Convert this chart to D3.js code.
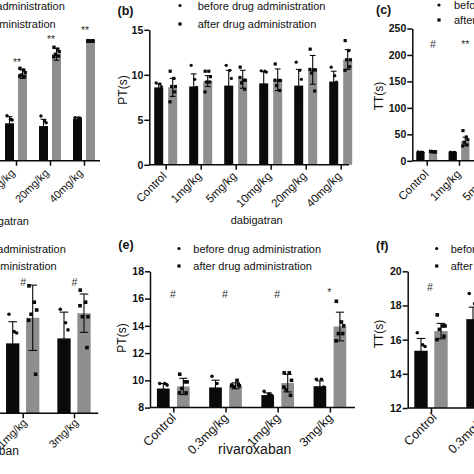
<!DOCTYPE html>
<html><head><meta charset="utf-8">
<script src="https://cdn.jsdelivr.net/npm/d3@7"></script>
<style>html,body{margin:0;padding:0;background:#fff;overflow:hidden}</style>
</head><body><svg id="c" width="474" height="474"></svg>
<script>
// ---------- data ----------
const legendLabels = ["before drug administration", "after drug administration"];
const dabigatranTicks = ["Control", "1mg/kg", "5mg/kg", "10mg/kg", "20mg/kg", "40mg/kg"];
const rivaroxabanTicks = ["Control", "0.3mg/kg", "1mg/kg", "3mg/kg"];

// (a) dabigatran, visible groups only
const aCats = ["10mg/kg", "20mg/kg", "40mg/kg"];
const aBefore = [28.3, 26.2, 31.5];
const aBeforeSD = [5.0, 5.1, 1.3];
const aAfter = [65.4, 80.5, 90.5];
const aAfterSD = [3.2, 4.5, 0.4];
const aBeforePts = [[34, 31.3, 30.8], [33.8, 30, 28.7], [32.5, 32.3, 32.1]];
const aAfterPts = [[69.9, 68.6, 66.6, 64.8, 63.5, 64], [85.8, 84.3, 82.5, 80.5, 79.2, 78.7], [90.8, 90.5, 90.6, 90.4, 90.7, 90.3]];
const aSig = ["**", "**", "**"];
const aSigAt = [75, 92, 99];

// (b) PT dabigatran
const bCats = dabigatranTicks;
const bBefore = [8.6, 8.7, 8.8, 9.05, 8.8, 9.25];
const bBeforeSD = [0.4, 1.4, 1.7, 1.3, 1.8, 1.15];
const bAfter = [8.6, 9.3, 9.5, 9.45, 10.55, 11.7];
const bAfterSD = [1.0, 0.6, 1.0, 1.2, 1.6, 1.1];
const bBeforePts = [[9.1, 9.0, 8.7], [11.05, 9.5, 8.6], [11.05, 10.5, 9.6], [10.45, 10.4, 10.3], [11.4, 10.5, 9.5], [10.85, 9.9, 9.2]];
const bAfterPts = [[10.4, 9.6, 8.7, 8.7, 8.1, 7.0], [10.4, 10.4, 9.8, 9.2, 9.2, 8.1], [10.85, 9.4, 9.4, 9.1, 8.4, 9.7], [11.2, 9.37, 9.37, 8.8, 8.26, 9.4], [12.85, 10.55, 10.55, 10.2, 8.2, 10.6], [13.8, 12.7, 11.67, 11.67, 10.9, 10.5]];

// (c) TT dabigatran, visible groups only
const cCats = ["Control", "1mg/kg"];
const cBefore = [16.5, 16.0];
const cBeforeSD = [0.8, 0.8];
const cAfter = [17.0, 37.0];
const cAfterSD = [1.0, 7.5];
const cBeforePts = [[17, 16.5, 16], [16.5, 16, 15.5]];
const cAfterPts = [[17.8, 17.4, 17.1, 16.8, 16.5, 17.6], [57, 45, 40, 35, 30, 28]];
const cSig = ["#", "**"];
const cSigAt = [220, 220];

// (d) rivaroxaban, visible groups only
const dCats = ["1mg/kg", "3mg/kg"];
const dBefore = [19.7, 21.1];
const dBeforeSD = [6.1, 7.4];
const dAfter = [26.9, 28.2];
const dAfterSD = [9.2, 5.4];
const dBeforePts = [[27.9, 23.0, 22.6], [29.3, 25.5, 23.5]];
const dAfterPts = [[35.9, 31.3, 29.1, 27.9, 11.0, 26.2], [34.7, 31.3, 27.2, 27.2, 18.5, 30.3]];
const dSig = ["#", "#"];
const dSigAt = [36.9, 36.9];

// (e) PT rivaroxaban
const eCats = rivaroxabanTicks;
const eBefore = [9.40, 9.48, 8.92, 9.57];
const eBeforeSD = [0.37, 0.53, 0.16, 0.39];
const eAfter = [9.55, 9.6, 9.8, 13.95];
const eAfterSD = [0.6, 0.22, 0.65, 1.05];
const eBeforePts = [[9.77, 9.77, 9.65], [10.3, 9.77, 9.3], [9.2, 8.99, 8.9], [10.08, 10.08, 9.5]];
const eAfterPts = [[10.45, 9.89, 9.89, 9.4, 9.08, 9.08], [9.6, 10.0, 9.6, 9.52, 9.7, 9.65], [10.55, 10.55, 10.0, 9.3, 8.9, 9.5], [15.8, 14.28, 14.0, 13.43, 13.43, 12.9]];
const eSig = ["#", "#", "#", "*"];
const eSigAt = [16.3, 16.3, 16.3, 16.45];

// (f) TT rivaroxaban, visible groups only
const fCatsBefore = ["Control", "0.3mg/kg"];
const fBefore = [15.35, 17.2];
const fBeforeSD = [0.72, 0.7];
const fBeforePts = [[16.4, 15.7, 15.6], [18.7, 18.1, 17.85]];
const fCatsAfter = ["Control"];
const fAfter = [16.5];
const fAfterSD = [0.45];
const fAfterPts = [[17.45, 16.8, 16.8, 16.6, 16.2, 16.0]];
const fSig = ["#"];
const fSigAt = [19.1];

// ---------- drawing ----------
const FONT = "'Liberation Sans', Arial, Helvetica, sans-serif";
const svg = d3.select("#c").attr("font-family", FONT);
svg.append("rect").attr("width", 474).attr("height", 474).attr("fill", "#fff");

const BLACK = "#0a0a0a", GREY = "#8e8e8e";

function jitter(i, w) {
  const pat = [-0.28, 0.12, 0.3, -0.12, 0.22, -0.3];
  return pat[i % pat.length] * w;
}

function panel(cfg) {
  const g = svg.append("g");
  const x = d3.scalePoint().domain(cfg.ticks).range([cfg.x0, cfg.x0 + cfg.step * (cfg.ticks.length - 1)]);
  const y = d3.scaleLinear().domain(cfg.yDomain).range([cfg.yBottom, cfg.yTop]);

  cfg.series.forEach(s => {
    const off = s.side * cfg.off;
    s.cats.forEach((c, i) => {
      const cx = x(c) + off;
      const v = s.values[i];
      g.append("rect").attr("x", cx - cfg.bw / 2).attr("y", y(v))
        .attr("width", cfg.bw).attr("height", y(cfg.yDomain[0]) - y(v)).attr("fill", s.color);
    });
    s.cats.forEach((c, i) => {
      const cx = x(c) + off;
      const v = s.values[i], sd = s.sd[i];
      const cw = cfg.bw * 0.32;
      const y1 = y(v + sd), y0 = y(v - sd);
      g.append("line").attr("x1", cx).attr("x2", cx).attr("y1", y1).attr("y2", y0).attr("stroke", BLACK).attr("stroke-width", 1.1);
      g.append("line").attr("x1", cx - cw).attr("x2", cx + cw).attr("y1", y1).attr("y2", y1).attr("stroke", BLACK).attr("stroke-width", 1.1);
      g.append("line").attr("x1", cx - cw).attr("x2", cx + cw).attr("y1", y0).attr("y2", y0).attr("stroke", BLACK).attr("stroke-width", 1.1);
      const pts = s.pts[i];
      pts.forEach((p, j) => {
        const px = cx + jitter(j, cfg.bw);
        if (s.side < 0) {
          g.append("circle").attr("cx", px).attr("cy", y(p)).attr("r", cfg.dot * 0.5).attr("fill", BLACK);
        } else {
          g.append("rect").attr("x", px - cfg.dot / 2).attr("y", y(p) - cfg.dot / 2)
            .attr("width", cfg.dot).attr("height", cfg.dot).attr("fill", BLACK);
        }
      });
    });
  });

  if (cfg.sig) {
    cfg.sig.labels.forEach((t, i) => {
      g.append("text").attr("x", x(cfg.sig.cats[i]) + cfg.sig.dx).attr("y", y(cfg.sig.at[i]) + 4)
        .attr("text-anchor", "middle").attr("font-size", 10.5).attr("fill", "#333").text(t);
    });
  }

  // x axis
  g.append("line").attr("x1", cfg.axisX0).attr("x2", cfg.axisX1)
    .attr("y1", cfg.yBottom).attr("y2", cfg.yBottom).attr("stroke", BLACK).attr("stroke-width", 1.5);
  const xa = g.append("g").attr("transform", `translate(0,${cfg.yBottom})`)
    .call(d3.axisBottom(x).tickSize(5).tickSizeOuter(0));
  xa.select(".domain").remove();
  xa.selectAll(".tick line").attr("stroke", BLACK).attr("stroke-width", 1.5);
  xa.selectAll(".tick text").attr("font-size", cfg.lbl[2]).attr("font-family", FONT).attr("fill", "#111")
    .attr("text-anchor", "end").attr("dy", 0).attr("y", 0)
    .attr("transform", `translate(${cfg.lbl[0]},${cfg.lbl[1]}) rotate(-45)`);

  // y axis
  if (cfg.yTicks) {
    const ya = g.append("g").attr("transform", `translate(${cfg.axisX0},0)`)
      .call(d3.axisLeft(y).tickValues(cfg.yTicks).tickSize(5).tickSizeOuter(0));
    ya.select(".domain").attr("stroke", BLACK).attr("stroke-width", 1.5);
    ya.selectAll(".tick line").attr("stroke", BLACK).attr("stroke-width", 1.5);
    ya.selectAll(".tick text").attr("font-size", 10.5).attr("font-weight", "bold")
      .attr("font-family", FONT).attr("fill", "#111").attr("x", -6);
    g.append("text").attr("transform", `translate(${cfg.yTitleX},${cfg.yTitleY}) rotate(-90)`)
      .attr("text-anchor", "middle").attr("dy", "0.35em").attr("font-size", 12).attr("fill", "#111").text(cfg.yTitle);
  }

  if (cfg.xTitle) {
    g.append("text").attr("x", cfg.xTitleX).attr("y", cfg.xTitleY).attr("text-anchor", "middle")
      .attr("font-size", cfg.xTitleSize).attr("fill", "#111").text(cfg.xTitle);
  }

  legendLabels.forEach((t, i) => {
    const ly = cfg.legY[i];
    if (i === 0) g.append("circle").attr("cx", cfg.legMarkX).attr("cy", ly - 4).attr("r", 1.6).attr("fill", BLACK);
    else g.append("rect").attr("x", cfg.legMarkX - 1.6).attr("y", ly - 5.6).attr("width", 3.2).attr("height", 3.2).attr("fill", BLACK);
    g.append("text").attr("x", cfg.legTextX).attr("y", ly).attr("font-size", 11).attr("fill", "#111").text(t);
  });

  if (cfg.letter) {
    g.append("text").attr("x", cfg.letterX).attr("y", cfg.letterY).attr("font-size", 12.5)
      .attr("font-weight", "bold").attr("fill", "#111").text(cfg.letter);
  }
}

// (a)
panel({
  ticks: dabigatranTicks, x0: -86, step: 34, axisX0: -200, axisX1: 100,
  yDomain: [0, 100], yBottom: 160.7, yTop: 28.5, bw: 9, off: 6.5, dot: 3.4, lbl: [-1, 13, 11],
  series: [
    { side: -1, color: BLACK, cats: aCats, values: aBefore, sd: aBeforeSD, pts: aBeforePts },
    { side: 1, color: GREY, cats: aCats, values: aAfter, sd: aAfterSD, pts: aAfterPts }
  ],
  sig: { labels: aSig, cats: aCats, at: aSigAt, dx: 1 },
  xTitle: "dabigatran", xTitleX: 3, xTitleY: 225, xTitleSize: 11,
  legY: [9.5, 27.5], legMarkX: -80, legTextX: -63
});

// (b)
panel({
  ticks: bCats, x0: 165.7, step: 35, axisX0: 149.3, axisX1: 349,
  yDomain: [0, 15], yBottom: 164.8, yTop: 29.8, yTicks: [0, 5, 10, 15], bw: 9, off: 7, dot: 3.2, lbl: [1, 12, 11.5],
  series: [
    { side: -1, color: BLACK, cats: bCats, values: bBefore, sd: bBeforeSD, pts: bBeforePts },
    { side: 1, color: GREY, cats: bCats, values: bAfter, sd: bAfterSD, pts: bAfterPts }
  ],
  yTitle: "PT(s)", yTitleX: 123, yTitleY: 90,
  xTitle: "dabigatran", xTitleX: 256.7, xTitleY: 224, xTitleSize: 11,
  legY: [9.5, 28], legMarkX: 180, legTextX: 197.7,
  letter: "(b)", letterX: 117.5, letterY: 14.5
});

// (c)
panel({
  ticks: dabigatranTicks, x0: 426.7, step: 32.3, axisX0: 412.3, axisX1: 600,
  yDomain: [0, 250], yBottom: 160.8, yTop: 28.5, yTicks: [0, 50, 100, 150, 200, 250], bw: 8.3, off: 6.3, dot: 3.2, lbl: [2, 14, 11.5],
  series: [
    { side: -1, color: BLACK, cats: cCats, values: cBefore, sd: cBeforeSD, pts: cBeforePts },
    { side: 1, color: GREY, cats: cCats, values: cAfter, sd: cAfterSD, pts: cAfterPts }
  ],
  sig: { labels: cSig, cats: cCats, at: cSigAt, dx: 6.3 },
  yTitle: "TT(s)", yTitleX: 379, yTitleY: 96,
  legY: [9, 24], legMarkX: 439, legTextX: 454,
  letter: "(c)", letterX: 376, letterY: 14
});

// (d)
panel({
  ticks: rivaroxabanTicks, x0: -79.9, step: 51.3, axisX0: -200, axisX1: 98.3,
  yDomain: [0, 40], yBottom: 413.3, yTop: 271.3, bw: 13.3, off: 10, dot: 3.6, lbl: [4.5, 10, 11],
  series: [
    { side: -1, color: BLACK, cats: dCats, values: dBefore, sd: dBeforeSD, pts: dBeforePts },
    { side: 1, color: GREY, cats: dCats, values: dAfter, sd: dAfterSD, pts: dAfterPts }
  ],
  sig: { labels: dSig, cats: dCats, at: dSigAt, dx: 0.5 },
  xTitle: "rivaroxaban", xTitleX: -12.5, xTitleY: 455, xTitleSize: 12,
  legY: [252.5, 270], legMarkX: -79, legTextX: -62
});

// (e)
panel({
  ticks: eCats, x0: 173.3, step: 52.2, axisX0: 150, axisX1: 355,
  yDomain: [8, 18], yBottom: 407.6, yTop: 271.3, yTicks: [8, 10, 12, 14, 16, 18], bw: 12.7, off: 10, dot: 3.6, lbl: [3, 11, 12.5],
  series: [
    { side: -1, color: BLACK, cats: eCats, values: eBefore, sd: eBeforeSD, pts: eBeforePts },
    { side: 1, color: GREY, cats: eCats, values: eAfter, sd: eAfterSD, pts: eAfterPts }
  ],
  sig: { labels: eSig, cats: eCats, at: eSigAt, dx: -0.5 },
  yTitle: "PT(s)", yTitleX: 121.5, yTitleY: 338,
  xTitle: "rivaroxaban", xTitleX: 254.7, xTitleY: 454, xTitleSize: 14,
  legY: [252.5, 270], legMarkX: 179, legTextX: 193.3,
  letter: "(e)", letterX: 118.3, letterY: 249
});

// (f)
panel({
  ticks: rivaroxabanTicks, x0: 431, step: 52, axisX0: 407.7, axisX1: 600,
  yDomain: [12, 20], yBottom: 408, yTop: 271.3, yTicks: [12, 14, 16, 18, 20], bw: 13.4, off: 10, dot: 3.6, lbl: [6, 10, 12.5],
  series: [
    { side: -1, color: BLACK, cats: fCatsBefore, values: fBefore, sd: fBeforeSD, pts: fBeforePts },
    { side: 1, color: GREY, cats: fCatsAfter, values: fAfter, sd: fAfterSD, pts: fAfterPts }
  ],
  sig: { labels: fSig, cats: fCatsAfter, at: fSigAt, dx: -1 },
  yTitle: "TT(s)", yTitleX: 379, yTitleY: 334,
  legY: [252.5, 270], legMarkX: 436.7, legTextX: 450.7,
  letter: "(f)", letterX: 376, letterY: 249.5
});
</script></body></html>
